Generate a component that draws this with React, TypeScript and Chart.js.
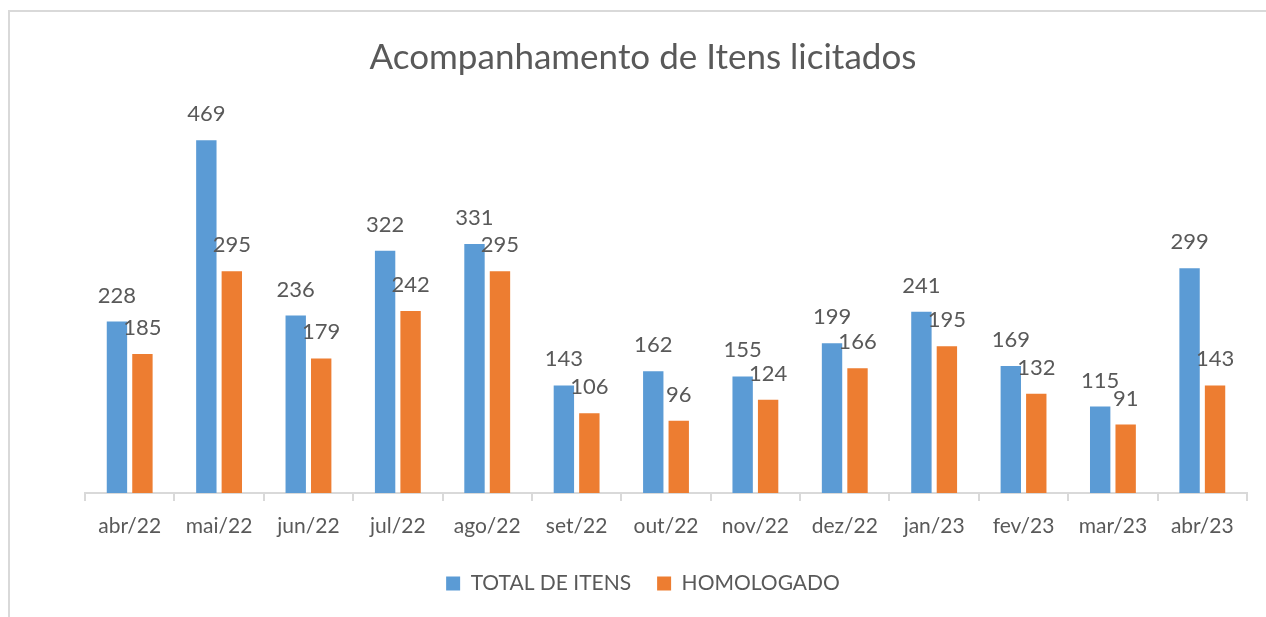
import React, { useEffect, useRef } from "react";
import { Chart, registerables } from "chart.js";

Chart.register(...registerables);

const categories = [
  "abr/22", "mai/22", "jun/22", "jul/22", "ago/22", "set/22", "out/22",
  "nov/22", "dez/22", "jan/23", "fev/23", "mar/23", "abr/23",
];
const totalItens = [228, 469, 236, 322, 331, 143, 162, 155, 199, 241, 169, 115, 299];
const homologado = [185, 295, 179, 242, 295, 106, 96, 124, 166, 195, 132, 91, 143];

const FONT = "Lato, 'Open Sans', sans-serif";
const TEXT = "#595959";
const AXIS = "#d9d9d9";

const dataLabels = {
  id: "dataLabels",
  afterDatasetsDraw(chart: any) {
    const ctx = chart.ctx;
    ctx.save();
    ctx.font = `22px ${FONT}`;
    ctx.fillStyle = TEXT;
    ctx.textAlign = "center";
    ctx.textBaseline = "alphabetic";
    chart.data.datasets.forEach((ds: any, di: number) => {
      const meta = chart.getDatasetMeta(di);
      meta.data.forEach((el: any, i: number) => {
        ctx.fillText(String(ds.data[i]), el.x, el.y - 19);
      });
    });
    ctx.restore();
  },
};

export default function App() {
  const ref = useRef<HTMLCanvasElement>(null);

  useEffect(() => {
    if (!ref.current) return;
    const chart = new Chart(ref.current, {
      type: "bar",
      data: {
        labels: categories,
        datasets: [
          {
            label: "TOTAL DE ITENS",
            data: totalItens,
            backgroundColor: "#5B9BD5",
            categoryPercentage: 0.57,
            barPercentage: 0.8,
          },
          {
            label: "HOMOLOGADO",
            data: homologado,
            backgroundColor: "#ED7D31",
            categoryPercentage: 0.57,
            barPercentage: 0.8,
          },
        ],
      },
      options: {
        responsive: false,
        animation: false,
        layout: { padding: { top: 37, left: 39, right: 19, bottom: 13 } },
        plugins: {
          title: {
            display: true,
            text: "Acompanhamento de Itens licitados",
            color: TEXT,
            font: { family: FONT, size: 35, weight: "normal" },
            padding: { top: 0, bottom: 38 },
          },
          legend: {
            position: "bottom",
            labels: {
              color: TEXT,
              font: { family: FONT, size: 21 },
              boxWidth: 14,
              boxHeight: 14,
              padding: 26,
            },
          },
          tooltip: { enabled: false },
        },
        scales: {
          x: {
            grid: {
              display: true,
              drawOnChartArea: false,
              drawTicks: true,
              tickLength: 8,
              color: AXIS,
              lineWidth: 2,
            },
            border: { display: true, color: AXIS, width: 2 },
            ticks: {
              color: TEXT,
              font: { family: FONT, size: 21 },
              padding: 13,
              maxRotation: 0,
            },
            afterFit(scale: any) {
              scale.height = 54;
            },
          },
          y: {
            min: 0,
            max: 500,
            grid: { display: false },
            border: { display: false },
            ticks: { display: false },
            afterFit(scale: any) {
              scale.width = 46;
            },
          },
        },
      },
      plugins: [dataLabels],
    });
    return () => chart.destroy();
  }, []);

  return (
    <div style={{ position: "fixed", left: 0, top: 0, width: 1266, height: 617, overflow: "hidden", background: "#fff" }}>
      <div
        style={{
          position: "absolute",
          left: 8,
          top: 10,
          width: 1400,
          height: 700,
          borderLeft: "2px solid #d9d9d9",
          borderTop: "2px solid #d9d9d9",
        }}
      />
      <canvas ref={ref} width={1266} height={617} style={{ position: "absolute", left: 0, top: 0 }} />
    </div>
  );
}
